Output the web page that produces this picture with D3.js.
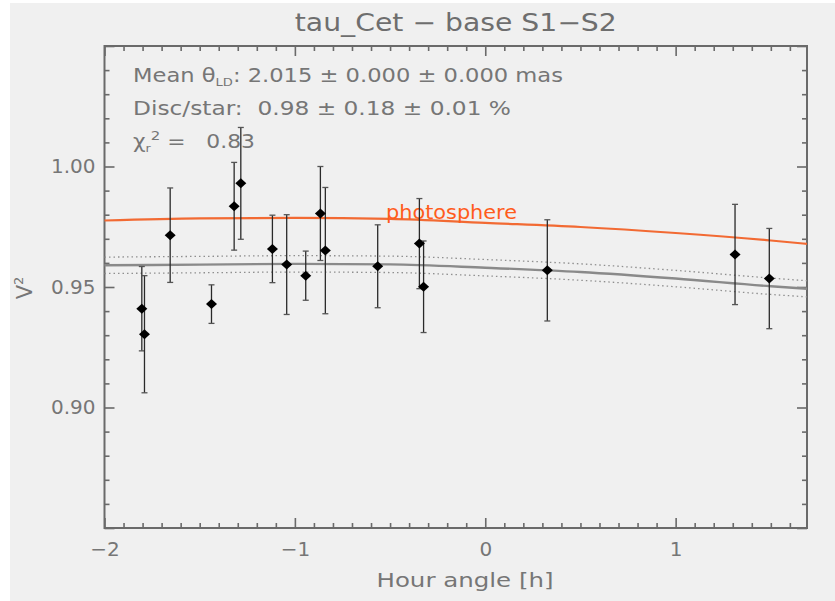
<!DOCTYPE html>
<html>
<head>
<meta charset="utf-8">
<script src="https://cdn.jsdelivr.net/npm/d3@7"></script>
<style>
  html, body { margin: 0; padding: 0; background: #ffffff; }
  svg { display: block; }
  text { font-family: "DejaVu Sans", "Liberation Sans", sans-serif; }
</style>
</head>
<body>
<svg id="chart" width="835" height="601"></svg>
<script>
// ---------------- data ----------------
const hourAngle = [-1.804, -1.790, -1.655, -1.438, -1.319, -1.284, -1.118, -1.043, -0.943, -0.866, -0.840, -0.565, -0.346, -0.324, 0.326, 1.312, 1.492];
const v2 =        [0.9410, 0.9304, 0.9715, 0.9429, 0.9835, 0.9930, 0.9658, 0.9593, 0.9547, 0.9805, 0.9651, 0.9586, 0.9680, 0.9501, 0.9569, 0.9635, 0.9535];
const v2Err =     [0.0175, 0.0243, 0.0196, 0.0080, 0.0182, 0.0232, 0.0140, 0.0207, 0.0102, 0.0195, 0.0262, 0.0172, 0.0187, 0.0190, 0.0210, 0.0208, 0.0208];

const modelHA     = [-2, -1.5, -1, -0.5, 0, 0.5, 1, 1.5, 1.69];
const photosphere = [0.9776, 0.9785, 0.9787, 0.9783, 0.9766, 0.9749, 0.9724, 0.9693, 0.9679];
const modelFit    = [0.9590, 0.9593, 0.9596, 0.9594, 0.9580, 0.9562, 0.9535, 0.9503, 0.9493];
const modelUpper  = [0.9624, 0.9627, 0.9630, 0.9628, 0.9614, 0.9596, 0.9569, 0.9537, 0.9526];
const modelLower  = [0.9556, 0.9559, 0.9562, 0.9560, 0.9546, 0.9528, 0.9501, 0.9469, 0.9459];

const xMajorTicks = [-2, -1, 0, 1];
const xTickLabels = ["\u22122", "\u22121", "0", "1"];
const yMajorTicks = [0.85, 0.90, 0.95, 1.00, 1.05];
const yTickLabels = ["", "0.90", "0.95", "1.00", ""];

const titleText = "tau_Cet \u2212 base S1\u2212S2";
const xLabel = "Hour angle [h]";

// ---------------- layout ----------------
const svg = d3.select("#chart");
const mLeft = 104.5, mRight = 807, mTop = 46, mBottom = 528;
const x = d3.scaleLinear().domain([-2, 1.69]).range([mLeft, mRight]);
const y = d3.scaleLinear().domain([0.85, 1.05]).range([mBottom, mTop]);

const axisColor = "#6a6a6a";
const textColor = "#767676";
const NB = "\u00A0";

svg.append("rect").attr("x", 10).attr("y", 3).attr("width", 825).attr("height", 598).attr("fill", "#f0f0f0");

// ---------------- axes (ticks inward on all four sides) ----------------
const xMinor = d3.range(-19, 17).map(d => d / 10).filter(d => Math.abs(d - Math.round(d)) > 1e-6);
const yMinor = d3.range(85, 106).map(d => d / 100).filter(d => Math.round(d * 100) % 5 !== 0);

function styleAxis(g) {
  g.select(".domain").remove();
  g.selectAll(".tick line").attr("stroke", axisColor).attr("stroke-width", 1.6);
  g.selectAll(".tick text").attr("fill", textColor).attr("font-size", 20);
}

const axesLayer = svg.append("g").attr("class", "axes");

axesLayer.append("g").attr("transform", `translate(0,${mBottom})`)
  .call(d3.axisBottom(x).tickValues(xMajorTicks).tickSize(-10).tickPadding(14)
    .tickFormat((d, i) => xTickLabels[i]))
  .call(styleAxis);
axesLayer.append("g").attr("transform", `translate(0,${mBottom})`)
  .call(d3.axisBottom(x).tickValues(xMinor).tickSize(-5).tickFormat(""))
  .call(styleAxis);
axesLayer.append("g").attr("transform", `translate(0,${mTop})`)
  .call(d3.axisTop(x).tickValues(xMajorTicks).tickSize(-10).tickFormat(""))
  .call(styleAxis);
axesLayer.append("g").attr("transform", `translate(0,${mTop})`)
  .call(d3.axisTop(x).tickValues(xMinor).tickSize(-5).tickFormat(""))
  .call(styleAxis);

axesLayer.append("g").attr("transform", `translate(${mLeft},0)`)
  .call(d3.axisLeft(y).tickValues(yMajorTicks).tickSize(-10).tickPadding(9)
    .tickFormat((d, i) => yTickLabels[i]))
  .call(styleAxis);
axesLayer.append("g").attr("transform", `translate(${mLeft},0)`)
  .call(d3.axisLeft(y).tickValues(yMinor).tickSize(-5).tickFormat(""))
  .call(styleAxis);
axesLayer.append("g").attr("transform", `translate(${mRight},0)`)
  .call(d3.axisRight(y).tickValues(yMajorTicks).tickSize(-10).tickFormat(""))
  .call(styleAxis);
axesLayer.append("g").attr("transform", `translate(${mRight},0)`)
  .call(d3.axisRight(y).tickValues(yMinor).tickSize(-5).tickFormat(""))
  .call(styleAxis);

// frame
svg.append("rect").attr("x", mLeft).attr("y", mTop).attr("width", mRight - mLeft).attr("height", mBottom - mTop)
  .attr("fill", "none").attr("stroke", axisColor).attr("stroke-width", 2);

// ---------------- model curves ----------------
const line = d3.line().x(d => x(d[0])).y(d => y(d[1])).curve(d3.curveMonotoneX);
const zipM = arr => modelHA.map((h, i) => [h, arr[i]]);

svg.append("path").attr("d", line(zipM(modelUpper))).attr("fill", "none")
  .attr("stroke", "#8f8f8f").attr("stroke-width", 1.3).attr("stroke-dasharray", "1.5,3");
svg.append("path").attr("d", line(zipM(modelLower))).attr("fill", "none")
  .attr("stroke", "#8f8f8f").attr("stroke-width", 1.3).attr("stroke-dasharray", "1.5,3");
svg.append("path").attr("d", line(zipM(modelFit))).attr("fill", "none")
  .attr("stroke", "#8a8a8a").attr("stroke-width", 2.4);
svg.append("path").attr("d", line(zipM(photosphere))).attr("fill", "none")
  .attr("stroke", "#f26a33").attr("stroke-width", 2.2);

svg.append("text").attr("x", 386).attr("y", 219).attr("fill", "#ff5c1c")
  .attr("font-size", 20).attr("textLength", 131).attr("lengthAdjust", "spacingAndGlyphs")
  .text("photosphere");

// ---------------- data points with error bars ----------------
const pts = hourAngle.map((h, i) => ({ h, v: v2[i], e: v2Err[i] }));
const eb = svg.append("g").attr("stroke", "#2a2a2a").attr("stroke-width", 1.3);
pts.forEach(p => {
  const cx = x(p.h), y1 = y(p.v + p.e), y2 = y(p.v - p.e);
  eb.append("line").attr("x1", cx).attr("x2", cx).attr("y1", y1).attr("y2", y2);
  eb.append("line").attr("x1", cx - 3).attr("x2", cx + 3).attr("y1", y1).attr("y2", y1).attr("stroke", "#555");
  eb.append("line").attr("x1", cx - 3).attr("x2", cx + 3).attr("y1", y2).attr("y2", y2).attr("stroke", "#555");
});
svg.append("g").selectAll("path").data(pts).join("path")
  .attr("d", p => {
    const cx = x(p.h), cy = y(p.v);
    return `M${cx},${cy - 5}L${cx + 5.5},${cy}L${cx},${cy + 5}L${cx - 5.5},${cy}Z`;
  })
  .attr("fill", "#000");

// ---------------- texts ----------------
svg.append("text").attr("x", (mLeft + mRight) / 2).attr("y", 31).attr("text-anchor", "middle")
  .attr("fill", "#6e6e6e").attr("font-size", 24).attr("textLength", 322).attr("lengthAdjust", "spacingAndGlyphs")
  .text(titleText);

svg.append("text").attr("x", 465).attr("y", 587).attr("text-anchor", "middle")
  .attr("fill", textColor).attr("font-size", 20).attr("textLength", 177).attr("lengthAdjust", "spacingAndGlyphs")
  .text(xLabel);

const yl = svg.append("text").attr("transform", "translate(32,288) rotate(-90)").attr("text-anchor", "middle")
  .attr("fill", textColor).attr("font-size", 21);
yl.append("tspan").text("V");
yl.append("tspan").attr("dy", -9).attr("font-size", 13).text("2");

const ann = svg.append("g").attr("fill", textColor).attr("font-size", 19);
const t1 = ann.append("text").attr("x", 133).attr("y", 82).attr("textLength", 430).attr("lengthAdjust", "spacingAndGlyphs");
t1.append("tspan").text("Mean" + NB + "\u03B8");
t1.append("tspan").attr("dy", 4).attr("font-size", 11).text("LD");
t1.append("tspan").attr("dy", -4).text(":" + NB + "2.015" + NB + "\u00B1" + NB + "0.000" + NB + "\u00B1" + NB + "0.000" + NB + "mas");

ann.append("text").attr("x", 133).attr("y", 115).attr("textLength", 378).attr("lengthAdjust", "spacingAndGlyphs")
  .text("Disc/star:" + NB + NB + "0.98" + NB + "\u00B1" + NB + "0.18" + NB + "\u00B1" + NB + "0.01" + NB + "%");

const t3 = ann.append("text").attr("x", 133).attr("y", 148).attr("textLength", 122).attr("lengthAdjust", "spacingAndGlyphs");
t3.append("tspan").text("\u03C7");
t3.append("tspan").attr("dy", 4).attr("font-size", 11).text("r");
t3.append("tspan").attr("dy", -12).attr("font-size", 13).text("2");
t3.append("tspan").attr("dy", 8).text(NB + "=" + NB + NB + NB + "0.83");
</script>
</body>
</html>
